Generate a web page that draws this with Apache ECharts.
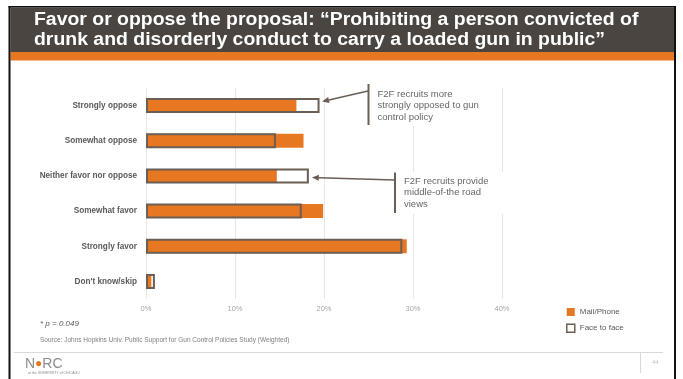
<!DOCTYPE html>
<html>
<head>
<meta charset="utf-8">
<style>
  html, body { margin: 0; padding: 0; background: #fff; }
  #chart { width: 683px; height: 379px; }
</style>
<script src="https://cdn.jsdelivr.net/npm/echarts@6/dist/echarts.min.js"></script>
</head>
<body>
<div id="chart"></div>
<script>
// Survey response categories (top to bottom)
const categories = ['Strongly oppose', 'Somewhat oppose', 'Neither favor nor oppose', 'Somewhat favor', 'Strongly favor', "Don't know/skip"];
// Percent of respondents by recruitment mode
const mailPhone = [16.9, 17.7, 14.7, 19.9, 29.3, 0.6];
const faceToFace = [19.5, 14.6, 18.3, 17.5, 28.8, 1.0];
// Value-axis ticks
const tickValues = [0, 10, 20, 30, 40];

const FONT = "'Liberation Sans', Arial, sans-serif";
const ORANGE = '#e87722';
const OUTLINE = '#6b5e55';
const DARK = '#4a4541';

const chart = echarts.init(document.getElementById('chart'), null, { renderer: 'canvas' });

const option = {
  animation: false,
  backgroundColor: '#fff',
  textStyle: { fontFamily: FONT },
  grid: { left: 146, right: 181, top: 88, bottom: 80, containLabel: false },
  xAxis: {
    type: 'value',
    min: tickValues[0],
    max: tickValues[tickValues.length - 1],
    interval: 10,
    axisLine: { show: false },
    axisTick: { show: false },
    splitLine: { lineStyle: { color: '#e6e6e6', width: 1 } },
    axisLabel: { formatter: '{value}%', color: '#a6a6a6', fontSize: 7.5, margin: 6, fontFamily: FONT }
  },
  yAxis: [
    {
      type: 'category',
      data: categories,
      inverse: true,
      axisLine: { show: false },
      axisTick: { show: false },
      axisLabel: { color: '#595959', fontSize: 8.2, fontWeight: 'bold', margin: 9, fontFamily: FONT }
    },
    {
      type: 'category',
      data: categories,
      inverse: true,
      show: false
    }
  ],
  legend: {
    orient: 'vertical',
    left: 566,
    top: 308,
    padding: 0,
    itemWidth: 8,
    itemHeight: 8,
    itemGap: 7.5,
    icon: 'rect',
    textStyle: { color: '#595959', fontSize: 8, fontFamily: FONT },
    data: [
      { name: 'Mail/Phone' },
      { name: 'Face to face', itemStyle: { color: '#fff', borderColor: OUTLINE, borderWidth: 1.5 } }
    ]
  },
  series: [
    {
      name: 'Mail/Phone',
      type: 'bar',
      yAxisIndex: 0,
      data: mailPhone,
      barWidth: 14,
      itemStyle: { color: ORANGE },
      silent: true,
      z: 2
    },
    {
      name: 'Face to face',
      type: 'bar',
      yAxisIndex: 1,
      data: faceToFace,
      barWidth: 15,
      itemStyle: { color: 'rgba(0,0,0,0)', borderColor: OUTLINE, borderWidth: 2 },
      silent: true,
      z: 3
    }
  ]
};

chart.setOption(option);

// Helpers for the callouts, anchored to the face-to-face bar ends
function px(value, catIndex) {
  return chart.convertToPixel({ xAxisIndex: 0, yAxisIndex: 0 }, [value, catIndex]);
}
function arrow(from, to) {
  const dx = to[0] - from[0], dy = to[1] - from[1];
  const len = Math.sqrt(dx * dx + dy * dy);
  const ux = dx / len, uy = dy / len;
  const L = 7, W = 3;
  const bx = to[0] - ux * L, by = to[1] - uy * L;
  return [
    { type: 'line', shape: { x1: from[0], y1: from[1], x2: bx, y2: by }, style: { stroke: OUTLINE, lineWidth: 1.5 }, z: 20 },
    { type: 'polygon', shape: { points: [to, [bx - uy * W, by + ux * W], [bx + uy * W, by - ux * W]] }, style: { fill: OUTLINE }, z: 20 }
  ];
}

const tip1 = px(faceToFace[0], 0);
const tip2 = px(faceToFace[2], 2);
const tipA = [tip1[0] + 2.5, tip1[1] - 4];
const tipB = [tip2[0] + 3, tip2[1] + 1.5];

const noteStyle = { fill: '#666666', fontSize: 9.5, fontFamily: FONT, lineHeight: 11.5 };
const titleStyle = { fill: '#fff', fontSize: 17.5, fontWeight: 'bold', fontFamily: FONT, verticalAlign: 'middle' };

const graphics = [
  // slide frame
  { type: 'rect', shape: { x: 8.5, y: 6, width: 2, height: 373 }, style: { fill: '#111' }, z: 30 },
  { type: 'rect', shape: { x: 674, y: 6, width: 2, height: 373 }, style: { fill: '#111' }, z: 30 },
  { type: 'rect', shape: { x: 8.5, y: 6, width: 667.5, height: 1.5 }, style: { fill: '#111' }, z: 30 },
  // header bands
  { type: 'rect', shape: { x: 10.5, y: 7.5, width: 663.5, height: 44.5 }, style: { fill: DARK }, z: 10 },
  { type: 'rect', shape: { x: 10.5, y: 52, width: 663.5, height: 8.5 }, style: { fill: ORANGE }, z: 10 },
  { type: 'text', x: 34, y: 20.5, scaleX: 1.11, style: Object.assign({ text: 'Favor or oppose the proposal: \u201CProhibiting a person convicted of' }, titleStyle), z: 11 },
  { type: 'text', x: 34, y: 40, scaleX: 1.11, style: Object.assign({ text: 'drunk and disorderly conduct to carry a loaded gun in public\u201D' }, titleStyle), z: 11 },

  // callout 1
  { type: 'rect', shape: { x: 369, y: 84, width: 115, height: 42 }, style: { fill: '#fff' }, z: 15 },
  { type: 'line', shape: { x1: 368.5, y1: 84, x2: 368.5, y2: 125 }, style: { stroke: OUTLINE, lineWidth: 2 }, z: 20 },
  ...arrow([368, 91], tipA),
  { type: 'text', x: 377.5, y: 88.5, style: Object.assign({ text: 'F2F recruits more\nstrongly opposed to gun\ncontrol policy' }, noteStyle), z: 21 },

  // callout 2
  { type: 'rect', shape: { x: 396, y: 172, width: 115, height: 42 }, style: { fill: '#fff' }, z: 15 },
  { type: 'line', shape: { x1: 395, y1: 172.5, x2: 395, y2: 213 }, style: { stroke: OUTLINE, lineWidth: 2 }, z: 20 },
  ...arrow([395, 180], tipB),
  { type: 'text', x: 404, y: 175.5, style: Object.assign({ text: 'F2F recruits provide\nmiddle-of-the road\nviews' }, noteStyle), z: 21 },

  // footnotes
  { type: 'text', x: 40, y: 324, style: { text: '* p = 0.049', fill: '#595959', fontSize: 8, fontStyle: 'italic', fontFamily: FONT, verticalAlign: 'middle' }, z: 21 },
  { type: 'text', x: 40, y: 340.5, style: { text: 'Source: Johns Hopkins Univ. Public Support for Gun Control Policies Study (Weighted)', fill: '#7f7f7f', fontSize: 6.5, fontFamily: FONT, verticalAlign: 'middle' }, z: 21 },

  // footer
  { type: 'line', shape: { x1: 14, y1: 352.5, x2: 663, y2: 352.5 }, style: { stroke: '#d9d9d9', lineWidth: 1 }, z: 20 },
  { type: 'line', shape: { x1: 640.5, y1: 352.5, x2: 640.5, y2: 373 }, style: { stroke: '#d9d9d9', lineWidth: 1 }, z: 20 },
  { type: 'text', x: 652, y: 362, style: { text: '44', fill: '#c4c4c4', fontSize: 6, fontFamily: FONT, verticalAlign: 'middle' }, z: 21 },
  { type: 'text', x: 25, y: 364, style: {
      text: '{g|N}{o|\u25CF}{g|RC}',
      verticalAlign: 'middle',
      rich: {
        g: { fill: '#8c8c8c', fontSize: 14, fontFamily: FONT },
        o: { fill: ORANGE, fontSize: 12, fontFamily: FONT }
      }
    }, z: 21 },
  { type: 'text', x: 28, y: 373, style: { text: 'at the UNIVERSITY of CHICAGO', fill: '#8c8c8c', fontSize: 3.5, fontFamily: FONT, verticalAlign: 'middle' }, z: 21 }
];

chart.setOption({ graphic: graphics });
</script>
</body>
</html>
